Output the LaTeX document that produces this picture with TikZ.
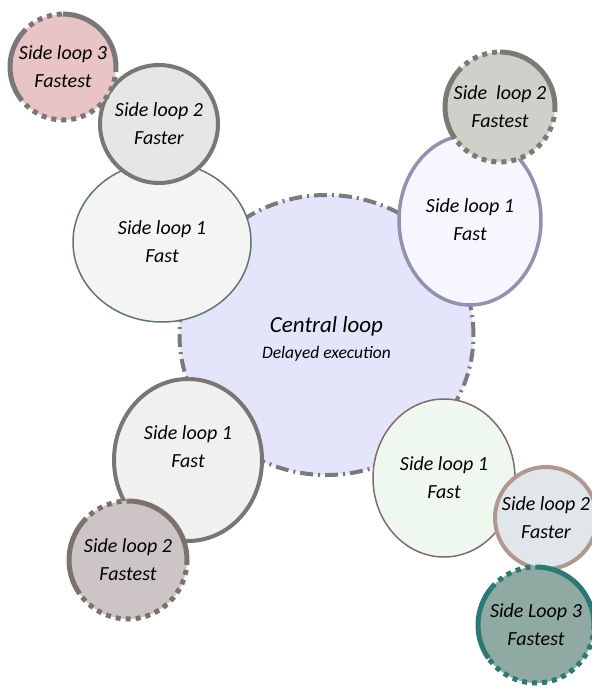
\documentclass[tikz,border=0pt]{standalone}
\usepackage{fontspec}
\setmainfont{Carlito}
\usetikzlibrary{shapes.geometric}

\definecolor{cenfill}{HTML}{E4E4FB}
\definecolor{cenline}{HTML}{7A7A7A}
\definecolor{tlonefill}{HTML}{F4F4F4}
\definecolor{tloneline}{HTML}{5F7575}
\definecolor{tltwofill}{HTML}{E6E6E6}
\definecolor{tltwoline}{HTML}{7A7676}
\definecolor{tlthreefill}{HTML}{E8C4C4}
\definecolor{tlthreeline}{HTML}{7B7777}
\definecolor{tronefill}{HTML}{F7F5FE}
\definecolor{troneline}{HTML}{9191B0}
\definecolor{trtwofill}{HTML}{CFD0C9}
\definecolor{trtwoline}{HTML}{7A7A72}
\definecolor{blonefill}{HTML}{F0F0F0}
\definecolor{bloneline}{HTML}{7A7676}
\definecolor{bltwofill}{HTML}{CDC4C6}
\definecolor{bltwoline}{HTML}{7D716B}
\definecolor{bronefill}{HTML}{EFF8EF}
\definecolor{broneline}{HTML}{806A70}
\definecolor{brtwofill}{HTML}{E0E6EA}
\definecolor{brtwoline}{HTML}{B09890}
\definecolor{brthreefill}{HTML}{8FAAA3}
\definecolor{brthreeline}{HTML}{2A7A73}

\newcommand{\loopfont}{\fontsize{20}{28}\selectfont\itshape}

\tikzset{
  loop/.style={inner sep=0pt, outer sep=0pt},
  looptext/.style={label={[align=center, font=\loopfont]center:#1}},
  rimsolid/.style={line width=5pt},
  rimdots/.style={line width=5pt, dash pattern=on 5pt off 5pt},
}

% solid from the top to the right, dots below, solid on the left, dots top left
\newcommand{\splitrim}[3]{%
  \draw[rimsolid, #3] (#1.center) ++(90:#2) arc[start angle=90, end angle=0, radius=#2];
  \draw[rimdots, #3] (#1.center) ++(0:#2) arc[start angle=0, end angle=-145, radius=#2];
  \draw[rimsolid, #3] (#1.center) ++(215:#2) arc[start angle=215, end angle=140, radius=#2];
  \draw[rimdots, #3] (#1.center) ++(140:#2) arc[start angle=140, end angle=90, radius=#2];}

\begin{document}
\begin{tikzpicture}[x=1pt, y=1pt]
  \useasboundingbox (0,0) rectangle (592,-689);

  % central loop
  \node[loop, ellipse, fill=cenfill, draw=cenline, line width=4pt,
        dash pattern=on 13pt off 5pt on 2pt off 5pt,
        minimum width=294pt, minimum height=280pt,
        label={[align=center, font=\fontsize{17.5}{26}\selectfont\itshape, yshift=-4pt]center:{\fontsize{23}{26}\selectfont Central loop}\\Delayed execution}]
        (central) at (326.5,-335) {};

  % top left
  \node[loop, ellipse, fill=tlonefill, draw=tloneline, line width=1.5pt,
        minimum width=178pt, minimum height=160pt, looptext={Side loop 1\\Fast}]
        (tlone) at (162,-242) {};
  \node[loop, circle, fill=tltwofill, draw=tltwoline, line width=4pt,
        minimum size=118pt, looptext={Side loop 2\\Faster}]
        (tltwo) at (159,-124) {};
  \node[loop, circle, fill=tlthreefill, minimum size=106pt,
        looptext={Side loop 3\\Fastest}]
        (tlthree) at (63,-67) {};
  \splitrim{tlthree}{53}{tlthreeline}

  % top right
  \node[loop, ellipse, fill=tronefill, draw=troneline, line width=3.5pt,
        minimum width=142pt, minimum height=170pt, looptext={Side loop 1\\Fast}]
        (trone) at (470,-220) {};
  \node[loop, circle, fill=trtwofill, minimum size=110pt,
        looptext={Side\ \ loop 2\\Fastest}]
        (trtwo) at (500,-107) {};
  \splitrim{trtwo}{55}{trtwoline}

  % bottom left
  \node[loop, ellipse, fill=blonefill, draw=bloneline, line width=4pt,
        minimum width=148pt, minimum height=162pt,
        label={[align=center, font=\loopfont, yshift=13pt]center:Side loop 1\\Fast}]
        (blone) at (188,-460) {};
  \node[loop, circle, fill=bltwofill, minimum size=118pt,
        looptext={Side loop 2\\Fastest}]
        (bltwo) at (128,-560) {};
  \splitrim{bltwo}{59}{bltwoline}

  % bottom right
  \node[loop, ellipse, fill=bronefill, draw=broneline, line width=1.5pt,
        minimum width=142pt, minimum height=158pt, looptext={Side loop 1\\Fast}]
        (brone) at (444,-478) {};
  \node[loop, circle, fill=brtwofill, draw=brtwoline, line width=4pt,
        minimum size=102pt, looptext={Side loop 2\\Faster}]
        (brtwo) at (546,-518) {};
  \node[loop, circle, fill=brthreefill, minimum size=116pt,
        looptext={Side Loop 3\\Fastest}]
        (brthree) at (536,-625) {};
  \splitrim{brthree}{58}{brthreeline}
\end{tikzpicture}
\end{document}
